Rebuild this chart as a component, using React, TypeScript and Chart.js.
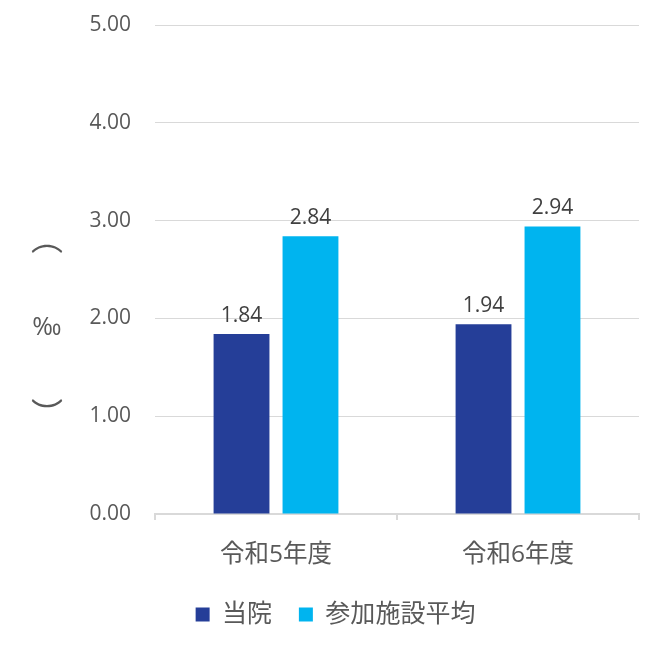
import React, { useEffect, useRef } from "react";
import { Chart, registerables } from "chart.js";

Chart.register(...registerables);

const categories = ["令和5年度", "令和6年度"];
const seriesNames = ["当院", "参加施設平均"];
const hospitalValues = [1.84, 1.94];
const averageValues = [2.84, 2.94];
const yTicks = [0, 1, 2, 3, 4, 5];

const FONT = "'Open Sans', 'Noto Sans CJK JP', sans-serif";

const valueLabels = {
  id: "valueLabels",
  afterDatasetsDraw(chart: any) {
    const ctx = chart.ctx;
    ctx.save();
    ctx.font = `21px ${FONT}`;
    ctx.fillStyle = "#404040";
    ctx.textAlign = "center";
    ctx.textBaseline = "bottom";
    chart.data.datasets.forEach((ds: any, i: number) => {
      const meta = chart.getDatasetMeta(i);
      meta.data.forEach((bar: any, j: number) => {
        ctx.fillText(Number(ds.data[j]).toFixed(2), bar.x, bar.y - 8);
      });
    });
    ctx.restore();
  },
};

const yTitle = {
  id: "yTitle",
  afterDraw(chart: any) {
    const ctx = chart.ctx;
    const x = 47;
    ctx.save();
    ctx.fillStyle = "#595959";
    ctx.textAlign = "center";
    ctx.textBaseline = "middle";
    ctx.font = `25px ${FONT}`;
    ctx.fillText("‰", x, 328);
    ctx.font = `32px 'Noto Sans CJK JP'`;
    ctx.fillText("︵", x, 238);
    ctx.fillText("︶", x, 414);
    ctx.restore();
  },
};

export default function App() {
  const ref = useRef<HTMLCanvasElement | null>(null);
  useEffect(() => {
    if (!ref.current) return;
    const chart = new Chart(ref.current, {
      type: "bar",
      data: {
        labels: categories,
        datasets: [
          {
            label: seriesNames[0],
            data: hospitalValues,
            backgroundColor: "#253E98",
            categoryPercentage: 0.57,
            barPercentage: 0.81,
          },
          {
            label: seriesNames[1],
            data: averageValues,
            backgroundColor: "#00B4EF",
            categoryPercentage: 0.57,
            barPercentage: 0.81,
          },
        ],
      },
      options: {
        animation: false,
        responsive: false,
        maintainAspectRatio: false,
        layout: { padding: { left: 32, right: 24, top: 25, bottom: 11 } },
        plugins: {
          legend: {
            position: "bottom",
            labels: {
              boxWidth: 14,
              boxHeight: 14,
              padding: 8,
              color: "#595959",
              font: { size: 25, family: FONT },
              generateLabels(chart: any) {
                const items = Chart.defaults.plugins.legend.labels.generateLabels(chart);
                items.forEach((it: any, i: number) => {
                  if (i < items.length - 1) it.text = it.text + "\u2002\u2005";
                });
                return items;
              },
            },
          },
          tooltip: { enabled: false },
        },
        scales: {
          x: {
            grid: {
              display: true,
              drawOnChartArea: false,
              drawTicks: true,
              tickLength: 6,
              color: "#D9D9D9",
              lineWidth: 2,
              offset: true,
            },
            border: { display: true, color: "#D9D9D9", width: 2 },
            ticks: {
              color: "#595959",
              padding: 20,
              font: { size: 24.5, family: FONT },
            },
            afterFit(scale: any) {
              scale.height = 80;
              scale.paddingLeft = 0;
              scale.paddingRight = 0;
            },
          },
          y: {
            min: 0,
            max: 5,
            afterBuildTicks(scale: any) {
              scale.ticks = yTicks.map((v) => ({ value: v }));
            },
            grid: { color: "#D9D9D9", drawTicks: false, lineWidth: 1 },
            border: { display: false },
            ticks: {
              color: "#595959",
              padding: 24,
              font: { size: 21, family: FONT },
              callback: (v: any) => Number(v).toFixed(2),
            },
            afterFit(scale: any) {
              scale.width = 123;
              scale.paddingTop = 0;
              scale.paddingBottom = 0;
            },
          },
        },
      },
      plugins: [valueLabels, yTitle],
    });
    return () => chart.destroy();
  }, []);
  return (
    <div style={{ position: "fixed", left: 0, top: 0, width: 663, height: 648, background: "#fff" }}>
      <canvas ref={ref} width={663} height={648} style={{ display: "block" }} />
    </div>
  );
}
